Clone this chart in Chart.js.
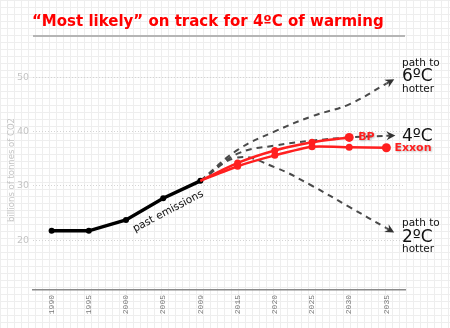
<!DOCTYPE html>
<html>
<head>
<meta charset="utf-8">
<script src="https://cdn.jsdelivr.net/npm/chart.js@4.4.0/dist/chart.umd.min.js"></script>
<style>
  html, body { margin: 0; padding: 0; }
  body {
    width: 450px; height: 328px; overflow: hidden;
    background-color: #fff;
    background-image:
      linear-gradient(#eeeeee 1px, transparent 1px),
      linear-gradient(90deg, #eeeeee 1px, transparent 1px);
    background-size: 7px 7px;
  }
  canvas { display: block; }
</style>
</head>
<body>
<canvas id="c" width="450" height="328"></canvas>
<script>
// Emissions, billions of tonnes of CO2
const years = ['1990', '1995', '2000', '2005', '2009', '2015', '2020', '2025', '2030', '2035'];
const pastEmissions = [21.7, 21.7, 23.7, 27.7, 30.9, null, null, null, null, null];
const bpOutlook     = [null, null, null, null, 30.9, 34.2, 36.5, 38.0, 38.9, null];
const exxonOutlook  = [null, null, null, null, 30.9, 33.6, 35.6, 37.2, 37.1, 37.0];
const path6C        = [null, null, null, null, 30.9, 36.6, 40.0, 42.8, 45.0, 48.8];
const path4C        = [null, null, null, null, 30.9, 35.9, 37.4, 38.3, 38.9, 39.2];
const path2C        = [null, null, null, null, 30.9, 35.2, 33.4, 30.0, 26.1, 22.2];
const yTicks = [20, 30, 40, 50];

const RED = '#ff1f1f';
const DASH = '#4a4a4a';

function redRadius(arr, big) {
  return arr.map((v, i) => (v === null || i === 4) ? 0 : (i === big ? 4.5 : 3.5));
}

function dashed(data) {
  return {
    data, borderColor: DASH, borderWidth: 2, borderDash: [6, 5],
    pointRadius: 0, tension: 0.4, fill: false, order: 3, arrow: true
  };
}

const overlay = {
  id: 'overlay',
  afterDatasetsDraw(chart) {
    const ctx = chart.ctx;
    // arrowheads on the scenario paths
    chart.data.datasets.forEach((ds, di) => {
      if (!ds.arrow) return;
      const pts = chart.getDatasetMeta(di).data.filter(p => !p.skip);
      const last = pts[pts.length - 1];
      let fx = last.cp1x, fy = last.cp1y;
      if (fx === undefined || (Math.abs(fx - last.x) < 0.5 && Math.abs(fy - last.y) < 0.5)) {
        const prev = pts[pts.length - 2]; fx = prev.x; fy = prev.y;
      }
      const a = Math.atan2(last.y - fy, last.x - fx);
      const tipX = last.x + 9 * Math.cos(a), tipY = last.y + 9 * Math.sin(a);
      ctx.save();
      ctx.strokeStyle = DASH; ctx.lineWidth = 2;
      ctx.beginPath(); ctx.moveTo(last.x, last.y);
      ctx.lineTo(last.x + 3 * Math.cos(a), last.y + 3 * Math.sin(a)); ctx.stroke();
      ctx.fillStyle = '#333';
      ctx.translate(tipX, tipY); ctx.rotate(a);
      ctx.beginPath();
      ctx.moveTo(0, 0); ctx.lineTo(-9, -4.5); ctx.lineTo(-6, 0); ctx.lineTo(-9, 4.5);
      ctx.closePath(); ctx.fill();
      ctx.restore();
    });
  },
  afterDraw(chart) {
    const ctx = chart.ctx;
    const ff = '"DejaVu Sans", Verdana, sans-serif';
    ctx.save();

    // heading and rule
    const title = '\u201cMost likely\u201d on track for 4\u00baC of warming';
    ctx.font = 'bold 15px ' + ff;
    const w = ctx.measureText(title).width;
    const fs = Math.min(15, 15 * 371 / w);
    ctx.font = 'bold ' + fs.toFixed(2) + 'px ' + ff;
    ctx.fillStyle = '#ff0000';
    ctx.textAlign = 'left'; ctx.textBaseline = 'middle';
    ctx.fillText(title, 32, 22.5);
    ctx.strokeStyle = '#b5b5b5'; ctx.lineWidth = 2;
    ctx.beginPath(); ctx.moveTo(chart.chartArea.left, 36); ctx.lineTo(chart.chartArea.right, 36); ctx.stroke();

    // past emissions label along the black line
    const p0 = chart.getDatasetMeta(0).data[2], p1 = chart.getDatasetMeta(0).data[4];
    const ang = Math.atan2(p1.y - p0.y, p1.x - p0.x);
    ctx.save();
    ctx.translate((p0.x + p1.x) / 2 + 5, (p0.y + p1.y) / 2 + 11);
    ctx.rotate(ang);
    ctx.font = '10.5px ' + ff; ctx.fillStyle = '#111'; ctx.textAlign = 'center';
    ctx.fillText('past emissions', 0, 0);
    ctx.restore();

    // company labels
    const bp = chart.getDatasetMeta(1).data[8];
    const ex = chart.getDatasetMeta(2).data[9];
    ctx.font = 'bold 11px ' + ff; ctx.textAlign = 'left';
    ctx.shadowColor = 'rgba(0,0,0,0.25)'; ctx.shadowBlur = 2; ctx.shadowOffsetX = 1; ctx.shadowOffsetY = 1;
    ctx.fillStyle = RED;
    ctx.fillText('BP', bp.x + 9, bp.y);
    ctx.fillText('Exxon', ex.x + 8, ex.y + 0.5);
    ctx.shadowColor = 'transparent';

    // scenario labels
    const lx = 402;
    ctx.fillStyle = '#111';
    ctx.font = '10.5px ' + ff;
    ctx.fillText('path to', lx, 63);
    ctx.fillText('hotter', lx, 89);
    ctx.fillText('path to', lx, 223);
    ctx.fillText('hotter', lx, 249.5);
    ctx.font = '17px ' + ff;
    ctx.fillText('6\u00baC', lx, 77);
    ctx.fillText('4\u00baC', lx, 136.5);
    ctx.fillText('2\u00baC', lx, 238);
    ctx.restore();
  }
};

new Chart(document.getElementById('c'), {
  type: 'line',
  data: {
    labels: years,
    datasets: [
      { data: pastEmissions, borderColor: '#000', backgroundColor: '#000', borderWidth: 3.5,
        pointRadius: 3, pointBorderWidth: 0, tension: 0, order: 1 },
      { data: bpOutlook, borderColor: RED, backgroundColor: RED, borderWidth: 2.5,
        pointRadius: redRadius(bpOutlook, 8), pointBorderWidth: 0, tension: 0.2, order: 0 },
      { data: exxonOutlook, borderColor: RED, backgroundColor: RED, borderWidth: 2.5,
        pointRadius: redRadius(exxonOutlook, 9), pointBorderWidth: 0, tension: 0.2, order: 0 },
      dashed(path6C),
      dashed(path4C),
      dashed(path2C)
    ]
  },
  options: {
    responsive: false,
    animation: false,
    devicePixelRatio: 1,
    spanGaps: false,
    layout: { padding: { top: 50, right: 45, left: 0, bottom: 0 } },
    plugins: { legend: { display: false }, tooltip: { enabled: false }, title: { display: false } },
    scales: {
      x: {
        type: 'category',
        offset: true,
        grid: { display: false, drawTicks: false },
        border: { display: true, color: '#8a8a8a', width: 1.5 },
        ticks: {
          minRotation: 90, maxRotation: 90, padding: 5, autoSkip: false,
          color: '#777777', font: { family: '"Liberation Mono", "DejaVu Sans Mono", monospace', size: 8 }
        },
        afterFit(s) { s.height = 38; }
      },
      y: {
        min: 10.8, max: 55,
        afterBuildTicks(s) { s.ticks = yTicks.map(v => ({ value: v })); },
        grid: { color: '#d4d4d4', drawTicks: false, lineWidth: 1 },
        border: { display: false, dash: [1, 2] },
        ticks: { padding: 4, color: '#c4c4c4', font: { family: '"DejaVu Sans", sans-serif', size: 9.5 } },
        title: { display: true, text: 'billions of tonnes of CO2', color: '#c4c4c4',
                 font: { family: '"DejaVu Sans", sans-serif', size: 8.5 }, padding: { top: 7, bottom: 0 } },
        afterFit(s) { s.width = 33; }
      }
    }
  },
  plugins: [overlay]
});
</script>
</body>
</html>
